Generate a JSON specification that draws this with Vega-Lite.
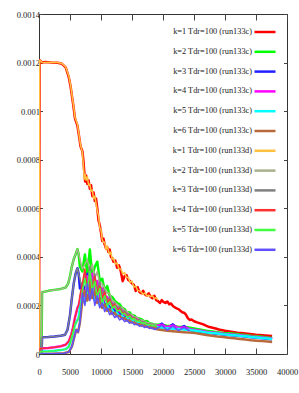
{
"$schema":"https://vega.github.io/schema/vega-lite/v6.json",
"autosize":{"type":"none"},
"padding":{"left":39,"top":14,"right":12,"bottom":39},
"width":248,"height":340,
"background":"white",
"config":{"view":{"stroke":"#333","strokeWidth":1},
"axis":{"labelFont":"Liberation Serif","labelFontSize":8.5,"labelColor":"#222","domain":false,"grid":false,"title":null,"tickColor":"#444","labelOverlap":false,"labelFlush":false},
"legend":{"orient":"top-right","offset":6,"title":null,"symbolType":"stroke","symbolSize":441,"symbolStrokeWidth":2.5,"labelFont":"Liberation Serif","labelFontSize":8.3,"labelColor":"#222","labelAlign":"right","labelOffset":-25,"rowPadding":2.8,"padding":0,"labelLimit":200}},
"data":{"values":[
{"s":"1c","x":0,"y":0},{"s":"1c","x":100,"y":0.00121},{"s":"1c","x":500,"y":0.0012},{"s":"1c","x":1000,"y":0.001202},{"s":"1c","x":2000,"y":0.0012},{"s":"1c","x":3000,"y":0.001199},{"s":"1c","x":3700,"y":0.001195},{"s":"1c","x":4300,"y":0.00118},{"s":"1c","x":4800,"y":0.00114},{"s":"1c","x":5100,"y":0.0011},{"s":"1c","x":5500,"y":0.00103},{"s":"1c","x":5800,"y":0.00097},{"s":"1c","x":6000,"y":0.000955},{"s":"1c","x":6200,"y":0.00094},{"s":"1c","x":6500,"y":0.00089},{"s":"1c","x":6700,"y":0.000855},{"s":"1c","x":7000,"y":0.000835},{"s":"1c","x":7150,"y":0.0008},{"s":"1c","x":7300,"y":0.00075},{"s":"1c","x":7450,"y":0.00071},{"s":"1c","x":7600,"y":0.000735},{"s":"1c","x":7800,"y":0.0007},{"s":"1c","x":8000,"y":0.000715},{"s":"1c","x":8200,"y":0.00068},{"s":"1c","x":8400,"y":0.000695},{"s":"1c","x":8600,"y":0.00065},{"s":"1c","x":8800,"y":0.000665},{"s":"1c","x":9000,"y":0.00063},{"s":"1c","x":9200,"y":0.00064},{"s":"1c","x":9400,"y":0.0006},{"s":"1c","x":9600,"y":0.00055},{"s":"1c","x":9800,"y":0.00053},{"s":"1c","x":10000,"y":0.0005},{"s":"1c","x":10200,"y":0.000465},{"s":"1c","x":10400,"y":0.000475},{"s":"1c","x":10600,"y":0.00045},{"s":"1c","x":10800,"y":0.000435},{"s":"1c","x":11000,"y":0.00044},{"s":"1c","x":11200,"y":0.00042},{"s":"1c","x":11400,"y":0.00043},{"s":"1c","x":11600,"y":0.0004},{"s":"1c","x":11800,"y":0.000395},{"s":"1c","x":12000,"y":0.00038},{"s":"1c","x":12300,"y":0.000385},{"s":"1c","x":12600,"y":0.000355},{"s":"1c","x":12900,"y":0.000365},{"s":"1c","x":13200,"y":0.00034},{"s":"1c","x":13500,"y":0.0003},{"s":"1c","x":13800,"y":0.00032},{"s":"1c","x":14100,"y":0.000325},{"s":"1c","x":14400,"y":0.000305},{"s":"1c","x":14700,"y":0.0003},{"s":"1c","x":15000,"y":0.00029},{"s":"1c","x":15300,"y":0.000285},{"s":"1c","x":15600,"y":0.00026},{"s":"1c","x":15900,"y":0.000275},{"s":"1c","x":16200,"y":0.000255},{"s":"1c","x":16500,"y":0.00025},{"s":"1c","x":16800,"y":0.00026},{"s":"1c","x":17100,"y":0.000245},{"s":"1c","x":17400,"y":0.00024},{"s":"1c","x":17700,"y":0.00025},{"s":"1c","x":18000,"y":0.000235},{"s":"1c","x":18300,"y":0.00023},{"s":"1c","x":18600,"y":0.00024},{"s":"1c","x":18900,"y":0.000222},{"s":"1c","x":19200,"y":0.000218},{"s":"1c","x":19500,"y":0.00021},{"s":"1c","x":19800,"y":0.000222},{"s":"1c","x":20100,"y":0.000214},{"s":"1c","x":20400,"y":0.00021},{"s":"1c","x":20700,"y":0.000216},{"s":"1c","x":21000,"y":0.000205},{"s":"1c","x":21300,"y":0.000208},{"s":"1c","x":21600,"y":0.000198},{"s":"1c","x":21900,"y":0.000192},{"s":"1c","x":22200,"y":0.000188},{"s":"1c","x":22500,"y":0.000185},{"s":"1c","x":22800,"y":0.000178},{"s":"1c","x":23100,"y":0.000172},{"s":"1c","x":23400,"y":0.00017},{"s":"1c","x":23700,"y":0.000162},{"s":"1c","x":24000,"y":0.000148},{"s":"1c","x":24300,"y":0.00014},{"s":"1c","x":24600,"y":0.000142},{"s":"1c","x":25000,"y":0.000135},{"s":"1c","x":25500,"y":0.00013},{"s":"1c","x":26000,"y":0.000126},{"s":"1c","x":26500,"y":0.000122},{"s":"1c","x":27000,"y":0.000116},{"s":"1c","x":27500,"y":0.000111},{"s":"1c","x":28000,"y":0.000108},{"s":"1c","x":28500,"y":0.000105},{"s":"1c","x":29000,"y":0.000101},{"s":"1c","x":30000,"y":0.000096},{"s":"1c","x":31000,"y":0.000092},{"s":"1c","x":32000,"y":0.000088},{"s":"1c","x":33000,"y":0.000085},{"s":"1c","x":34000,"y":0.000082},{"s":"1c","x":35000,"y":0.000079},{"s":"1c","x":36000,"y":0.000077},{"s":"1c","x":37000,"y":0.000075},{"s":"1c","x":37600,"y":0.000074},
{"s":"2c","x":0,"y":0},{"s":"2c","x":400,"y":0},{"s":"2c","x":500,"y":0.000254},{"s":"2c","x":1500,"y":0.00026},{"s":"2c","x":2500,"y":0.000264},{"s":"2c","x":3500,"y":0.000268},{"s":"2c","x":4300,"y":0.000274},{"s":"2c","x":4700,"y":0.00029},{"s":"2c","x":5000,"y":0.00032},{"s":"2c","x":5300,"y":0.00036},{"s":"2c","x":5600,"y":0.00039},{"s":"2c","x":5900,"y":0.00041},{"s":"2c","x":6200,"y":0.000432},{"s":"2c","x":6400,"y":0.00041},{"s":"2c","x":6600,"y":0.00036},{"s":"2c","x":7000,"y":0.00034},{"s":"2c","x":7400,"y":0.00041},{"s":"2c","x":7800,"y":0.00033},{"s":"2c","x":8200,"y":0.00043},{"s":"2c","x":8600,"y":0.00032},{"s":"2c","x":9000,"y":0.00036},{"s":"2c","x":9400,"y":0.00038},{"s":"2c","x":9800,"y":0.0003},{"s":"2c","x":10200,"y":0.00031},{"s":"2c","x":10600,"y":0.00026},{"s":"2c","x":11000,"y":0.00028},{"s":"2c","x":11400,"y":0.00024},{"s":"2c","x":11800,"y":0.000235},{"s":"2c","x":12200,"y":0.00022},{"s":"2c","x":12600,"y":0.00021},{"s":"2c","x":13000,"y":0.000205},{"s":"2c","x":13400,"y":0.00019},{"s":"2c","x":13800,"y":0.000185},{"s":"2c","x":14200,"y":0.00017},{"s":"2c","x":14600,"y":0.000172},{"s":"2c","x":15000,"y":0.00016},{"s":"2c","x":15400,"y":0.000158},{"s":"2c","x":15800,"y":0.000148},{"s":"2c","x":16200,"y":0.000146},{"s":"2c","x":16600,"y":0.000142},{"s":"2c","x":17000,"y":0.000134},{"s":"2c","x":17400,"y":0.000136},{"s":"2c","x":17800,"y":0.000127},{"s":"2c","x":18200,"y":0.000125},{"s":"2c","x":18600,"y":0.000121},{"s":"2c","x":19000,"y":0.00012},{"s":"2c","x":19800,"y":0.000121},{"s":"2c","x":20700,"y":0.000115},{"s":"2c","x":21600,"y":0.000116},{"s":"2c","x":22500,"y":0.000111},{"s":"2c","x":23400,"y":0.000112},{"s":"2c","x":24300,"y":0.000108},{"s":"2c","x":25200,"y":0.000104},{"s":"2c","x":26100,"y":0.0001},{"s":"2c","x":27000,"y":0.000096},{"s":"2c","x":27900,"y":0.000093},{"s":"2c","x":28800,"y":0.00009},{"s":"2c","x":29700,"y":0.000087},{"s":"2c","x":30600,"y":0.000085},{"s":"2c","x":31500,"y":0.000083},{"s":"2c","x":32400,"y":0.00008},{"s":"2c","x":33300,"y":0.000078},{"s":"2c","x":34200,"y":0.000075},{"s":"2c","x":35100,"y":0.000073},{"s":"2c","x":36000,"y":0.000071},{"s":"2c","x":36900,"y":0.000068},{"s":"2c","x":37600,"y":0.000066},
{"s":"3c","x":0,"y":0},{"s":"3c","x":400,"y":0},{"s":"3c","x":500,"y":0.000069},{"s":"3c","x":1500,"y":0.00007},{"s":"3c","x":2500,"y":0.000072},{"s":"3c","x":3500,"y":0.000075},{"s":"3c","x":4200,"y":0.000079},{"s":"3c","x":4600,"y":0.0001},{"s":"3c","x":5000,"y":0.00016},{"s":"3c","x":5300,"y":0.00023},{"s":"3c","x":5600,"y":0.00029},{"s":"3c","x":5900,"y":0.00033},{"s":"3c","x":6200,"y":0.000353},{"s":"3c","x":6400,"y":0.00033},{"s":"3c","x":6600,"y":0.00027},{"s":"3c","x":7000,"y":0.00029},{"s":"3c","x":7400,"y":0.00025},{"s":"3c","x":7800,"y":0.00033},{"s":"3c","x":8200,"y":0.00026},{"s":"3c","x":8600,"y":0.00029},{"s":"3c","x":9000,"y":0.00024},{"s":"3c","x":9400,"y":0.00027},{"s":"3c","x":9800,"y":0.00022},{"s":"3c","x":10200,"y":0.00024},{"s":"3c","x":10600,"y":0.0002},{"s":"3c","x":11000,"y":0.00021},{"s":"3c","x":11400,"y":0.00019},{"s":"3c","x":11800,"y":0.000195},{"s":"3c","x":12200,"y":0.000178},{"s":"3c","x":12600,"y":0.00018},{"s":"3c","x":13000,"y":0.000165},{"s":"3c","x":13400,"y":0.000168},{"s":"3c","x":13800,"y":0.000155},{"s":"3c","x":14200,"y":0.000152},{"s":"3c","x":14600,"y":0.000145},{"s":"3c","x":15000,"y":0.000142},{"s":"3c","x":15400,"y":0.000135},{"s":"3c","x":15800,"y":0.000134},{"s":"3c","x":16200,"y":0.000128},{"s":"3c","x":16600,"y":0.000126},{"s":"3c","x":17000,"y":0.000121},{"s":"3c","x":17400,"y":0.00012},{"s":"3c","x":17800,"y":0.000115},{"s":"3c","x":18200,"y":0.000114},{"s":"3c","x":18600,"y":0.00011},{"s":"3c","x":19000,"y":0.000109},{"s":"3c","x":19800,"y":0.000125},{"s":"3c","x":20700,"y":0.000106},{"s":"3c","x":21600,"y":0.000122},{"s":"3c","x":22500,"y":0.000103},{"s":"3c","x":23400,"y":0.000115},{"s":"3c","x":24300,"y":0.000099},{"s":"3c","x":25200,"y":0.000095},{"s":"3c","x":26100,"y":0.000092},{"s":"3c","x":27000,"y":0.000088},{"s":"3c","x":27900,"y":0.000085},{"s":"3c","x":28800,"y":0.000083},{"s":"3c","x":29700,"y":0.00008},{"s":"3c","x":30600,"y":0.000078},{"s":"3c","x":31500,"y":0.000076},{"s":"3c","x":32400,"y":0.000074},{"s":"3c","x":33300,"y":0.000072},{"s":"3c","x":34200,"y":0.000069},{"s":"3c","x":35100,"y":0.000067},{"s":"3c","x":36000,"y":0.000065},{"s":"3c","x":36900,"y":0.000063},{"s":"3c","x":37600,"y":0.000061},
{"s":"4c","x":0,"y":0},{"s":"4c","x":100,"y":0},{"s":"4c","x":200,"y":0.000023},{"s":"4c","x":1500,"y":0.000025},{"s":"4c","x":2500,"y":0.000028},{"s":"4c","x":3500,"y":0.000032},{"s":"4c","x":4300,"y":0.000038},{"s":"4c","x":4800,"y":0.000052},{"s":"4c","x":5200,"y":0.00008},{"s":"4c","x":5500,"y":0.00011},{"s":"4c","x":5800,"y":0.00015},{"s":"4c","x":6200,"y":0.00019},{"s":"4c","x":6400,"y":0.0002},{"s":"4c","x":6600,"y":0.00022},{"s":"4c","x":7000,"y":0.00027},{"s":"4c","x":7400,"y":0.00022},{"s":"4c","x":7800,"y":0.00032},{"s":"4c","x":8200,"y":0.00027},{"s":"4c","x":8600,"y":0.00033},{"s":"4c","x":9000,"y":0.00026},{"s":"4c","x":9400,"y":0.0003},{"s":"4c","x":9800,"y":0.00024},{"s":"4c","x":10200,"y":0.00027},{"s":"4c","x":10600,"y":0.00022},{"s":"4c","x":11000,"y":0.000235},{"s":"4c","x":11400,"y":0.00021},{"s":"4c","x":11800,"y":0.000212},{"s":"4c","x":12200,"y":0.00019},{"s":"4c","x":12600,"y":0.000195},{"s":"4c","x":13000,"y":0.000175},{"s":"4c","x":13400,"y":0.00018},{"s":"4c","x":13800,"y":0.000162},{"s":"4c","x":14200,"y":0.000168},{"s":"4c","x":14600,"y":0.000152},{"s":"4c","x":15000,"y":0.000155},{"s":"4c","x":15400,"y":0.000142},{"s":"4c","x":15800,"y":0.000145},{"s":"4c","x":16200,"y":0.000133},{"s":"4c","x":16600,"y":0.000136},{"s":"4c","x":17000,"y":0.000125},{"s":"4c","x":17400,"y":0.000128},{"s":"4c","x":17800,"y":0.000119},{"s":"4c","x":18200,"y":0.000121},{"s":"4c","x":18600,"y":0.000114},{"s":"4c","x":19000,"y":0.000116},{"s":"4c","x":19800,"y":0.00012},{"s":"4c","x":20700,"y":0.000111},{"s":"4c","x":21600,"y":0.000117},{"s":"4c","x":22500,"y":0.000107},{"s":"4c","x":23400,"y":0.00011},{"s":"4c","x":24300,"y":0.000102},{"s":"4c","x":25200,"y":0.000099},{"s":"4c","x":26100,"y":0.000096},{"s":"4c","x":27000,"y":0.000092},{"s":"4c","x":27900,"y":0.000089},{"s":"4c","x":28800,"y":0.000086},{"s":"4c","x":29700,"y":0.000083},{"s":"4c","x":30600,"y":0.000081},{"s":"4c","x":31500,"y":0.000079},{"s":"4c","x":32400,"y":0.000077},{"s":"4c","x":33300,"y":0.000075},{"s":"4c","x":34200,"y":0.000072},{"s":"4c","x":35100,"y":0.00007},{"s":"4c","x":36000,"y":0.000068},{"s":"4c","x":36900,"y":0.000066},{"s":"4c","x":37600,"y":0.000064},
{"s":"5c","x":0,"y":0},{"s":"5c","x":100,"y":0},{"s":"5c","x":200,"y":0.00001},{"s":"5c","x":1500,"y":0.000011},{"s":"5c","x":2500,"y":0.000013},{"s":"5c","x":3500,"y":0.000016},{"s":"5c","x":4300,"y":0.00002},{"s":"5c","x":4800,"y":0.00003},{"s":"5c","x":5200,"y":0.00006},{"s":"5c","x":5500,"y":0.00009},{"s":"5c","x":5800,"y":0.00012},{"s":"5c","x":6200,"y":0.00014},{"s":"5c","x":6400,"y":0.00015},{"s":"5c","x":6600,"y":0.00019},{"s":"5c","x":7000,"y":0.00024},{"s":"5c","x":7400,"y":0.00021},{"s":"5c","x":7800,"y":0.00028},{"s":"5c","x":8200,"y":0.00023},{"s":"5c","x":8600,"y":0.00027},{"s":"5c","x":9000,"y":0.00022},{"s":"5c","x":9400,"y":0.00025},{"s":"5c","x":9800,"y":0.0002},{"s":"5c","x":10200,"y":0.00022},{"s":"5c","x":10600,"y":0.00019},{"s":"5c","x":11000,"y":0.0002},{"s":"5c","x":11400,"y":0.000178},{"s":"5c","x":11800,"y":0.000182},{"s":"5c","x":12200,"y":0.000165},{"s":"5c","x":12600,"y":0.000168},{"s":"5c","x":13000,"y":0.000155},{"s":"5c","x":13400,"y":0.000158},{"s":"5c","x":13800,"y":0.000146},{"s":"5c","x":14200,"y":0.000148},{"s":"5c","x":14600,"y":0.000139},{"s":"5c","x":15000,"y":0.00014},{"s":"5c","x":15400,"y":0.000132},{"s":"5c","x":15800,"y":0.000133},{"s":"5c","x":16200,"y":0.000126},{"s":"5c","x":16600,"y":0.000127},{"s":"5c","x":17000,"y":0.000121},{"s":"5c","x":17400,"y":0.000121},{"s":"5c","x":17800,"y":0.000116},{"s":"5c","x":18200,"y":0.000116},{"s":"5c","x":18600,"y":0.000111},{"s":"5c","x":19000,"y":0.000111},{"s":"5c","x":19800,"y":0.000108},{"s":"5c","x":20700,"y":0.000106},{"s":"5c","x":21600,"y":0.000104},{"s":"5c","x":22500,"y":0.000103},{"s":"5c","x":23400,"y":0.000101},{"s":"5c","x":24300,"y":0.000099},{"s":"5c","x":25200,"y":0.000096},{"s":"5c","x":26100,"y":0.000093},{"s":"5c","x":27000,"y":0.000089},{"s":"5c","x":27900,"y":0.000086},{"s":"5c","x":28800,"y":0.000084},{"s":"5c","x":29700,"y":0.000081},{"s":"5c","x":30600,"y":0.000079},{"s":"5c","x":31500,"y":0.000077},{"s":"5c","x":32400,"y":0.000075},{"s":"5c","x":33300,"y":0.000073},{"s":"5c","x":34200,"y":0.00007},{"s":"5c","x":35100,"y":0.000068},{"s":"5c","x":36000,"y":0.000066},{"s":"5c","x":36900,"y":0.000064},{"s":"5c","x":37600,"y":0.000062},
{"s":"6c","x":0,"y":0},{"s":"6c","x":2000,"y":0.000001},{"s":"6c","x":4000,"y":0.000003},{"s":"6c","x":4800,"y":0.000008},{"s":"6c","x":5300,"y":0.00003},{"s":"6c","x":5700,"y":0.00007},{"s":"6c","x":6000,"y":0.0001},{"s":"6c","x":6300,"y":0.00009},{"s":"6c","x":6600,"y":0.00013},{"s":"6c","x":7000,"y":0.00022},{"s":"6c","x":7400,"y":0.00026},{"s":"6c","x":7800,"y":0.00022},{"s":"6c","x":8200,"y":0.00028},{"s":"6c","x":8600,"y":0.00023},{"s":"6c","x":9000,"y":0.00026},{"s":"6c","x":9400,"y":0.00021},{"s":"6c","x":9800,"y":0.00023},{"s":"6c","x":10200,"y":0.00019},{"s":"6c","x":10600,"y":0.000205},{"s":"6c","x":11000,"y":0.000178},{"s":"6c","x":11400,"y":0.000185},{"s":"6c","x":11800,"y":0.000165},{"s":"6c","x":12200,"y":0.00017},{"s":"6c","x":12600,"y":0.000155},{"s":"6c","x":13000,"y":0.000158},{"s":"6c","x":13400,"y":0.000146},{"s":"6c","x":13800,"y":0.000147},{"s":"6c","x":14200,"y":0.000138},{"s":"6c","x":14600,"y":0.000138},{"s":"6c","x":15000,"y":0.00013},{"s":"6c","x":15400,"y":0.00013},{"s":"6c","x":15800,"y":0.000123},{"s":"6c","x":16200,"y":0.000123},{"s":"6c","x":16600,"y":0.000117},{"s":"6c","x":17000,"y":0.000117},{"s":"6c","x":17400,"y":0.000112},{"s":"6c","x":17800,"y":0.000111},{"s":"6c","x":18200,"y":0.000107},{"s":"6c","x":18600,"y":0.000106},{"s":"6c","x":19000,"y":0.000102},{"s":"6c","x":19800,"y":0.000099},{"s":"6c","x":20700,"y":0.000096},{"s":"6c","x":21600,"y":0.000094},{"s":"6c","x":22500,"y":0.000092},{"s":"6c","x":23400,"y":0.00009},{"s":"6c","x":24300,"y":0.000088},{"s":"6c","x":25200,"y":0.000086},{"s":"6c","x":26100,"y":0.000082},{"s":"6c","x":27000,"y":0.000078},{"s":"6c","x":27900,"y":0.000075},{"s":"6c","x":28800,"y":0.000072},{"s":"6c","x":29700,"y":0.00007},{"s":"6c","x":30600,"y":0.000067},{"s":"6c","x":31500,"y":0.000065},{"s":"6c","x":32400,"y":0.000062},{"s":"6c","x":33300,"y":0.00006},{"s":"6c","x":34200,"y":0.000057},{"s":"6c","x":35100,"y":0.000055},{"s":"6c","x":36000,"y":0.000053},{"s":"6c","x":36900,"y":0.000051},{"s":"6c","x":37600,"y":0.000049},
{"s":"1d","x":0,"y":0},{"s":"1d","x":100,"y":0.00121},{"s":"1d","x":500,"y":0.0012},{"s":"1d","x":1000,"y":0.0012},{"s":"1d","x":2000,"y":0.001201},{"s":"1d","x":3000,"y":0.0012},{"s":"1d","x":3700,"y":0.001196},{"s":"1d","x":4300,"y":0.001182},{"s":"1d","x":4800,"y":0.001145},{"s":"1d","x":5100,"y":0.001105},{"s":"1d","x":5500,"y":0.001035},{"s":"1d","x":5800,"y":0.000975},{"s":"1d","x":6000,"y":0.00096},{"s":"1d","x":6200,"y":0.000945},{"s":"1d","x":6500,"y":0.000895},{"s":"1d","x":6700,"y":0.00086},{"s":"1d","x":7000,"y":0.00083},{"s":"1d","x":7150,"y":0.00078},{"s":"1d","x":7300,"y":0.00072},{"s":"1d","x":7450,"y":0.00074},{"s":"1d","x":7600,"y":0.000715},{"s":"1d","x":7800,"y":0.00073},{"s":"1d","x":8000,"y":0.000695},{"s":"1d","x":8200,"y":0.0007},{"s":"1d","x":8400,"y":0.00067},{"s":"1d","x":8600,"y":0.000675},{"s":"1d","x":8800,"y":0.00064},{"s":"1d","x":9000,"y":0.00065},{"s":"1d","x":9200,"y":0.00062},{"s":"1d","x":9400,"y":0.00059},{"s":"1d","x":9600,"y":0.00057},{"s":"1d","x":9800,"y":0.00052},{"s":"1d","x":10000,"y":0.00051},{"s":"1d","x":10200,"y":0.00047},{"s":"1d","x":10400,"y":0.00046},{"s":"1d","x":10600,"y":0.00046},{"s":"1d","x":10800,"y":0.00043},{"s":"1d","x":11000,"y":0.000445},{"s":"1d","x":11200,"y":0.000425},{"s":"1d","x":11400,"y":0.00041},{"s":"1d","x":11600,"y":0.00042},{"s":"1d","x":11800,"y":0.00039},{"s":"1d","x":12000,"y":0.000395},{"s":"1d","x":12300,"y":0.00037},{"s":"1d","x":12600,"y":0.000375},{"s":"1d","x":12900,"y":0.00035},{"s":"1d","x":13200,"y":0.00035},{"s":"1d","x":13500,"y":0.00033},{"s":"1d","x":13800,"y":0.000335},{"s":"1d","x":14100,"y":0.000315},{"s":"1d","x":14400,"y":0.000315},{"s":"1d","x":14700,"y":0.000295},{"s":"1d","x":15000,"y":0.0003},{"s":"1d","x":15300,"y":0.000275},{"s":"1d","x":15600,"y":0.00028},{"s":"1d","x":15900,"y":0.000262},{"s":"1d","x":16200,"y":0.00026},{"s":"1d","x":16500,"y":0.000255},{"s":"1d","x":16800,"y":0.000245},{"s":"1d","x":17100,"y":0.000252},{"s":"1d","x":17400,"y":0.000238},{"s":"1d","x":17700,"y":0.000242},{"s":"1d","x":18000,"y":0.000236},{"s":"1d","x":18300,"y":0.00024},{"s":"1d","x":18600,"y":0.000228},{"s":"1d","x":18900,"y":0.000232},{"s":"1d","x":19200,"y":0.000222},
{"s":"2d","x":0,"y":0},{"s":"2d","x":400,"y":0},{"s":"2d","x":500,"y":0.000254},{"s":"2d","x":1500,"y":0.00026},{"s":"2d","x":2500,"y":0.000264},{"s":"2d","x":3500,"y":0.000268},{"s":"2d","x":4300,"y":0.000274},{"s":"2d","x":4700,"y":0.00029},{"s":"2d","x":5000,"y":0.00032},{"s":"2d","x":5300,"y":0.00036},{"s":"2d","x":5600,"y":0.00039},{"s":"2d","x":5900,"y":0.00041},{"s":"2d","x":6200,"y":0.000432},{"s":"2d","x":6400,"y":0.00041},{"s":"2d","x":6600,"y":0.00039},{"s":"2d","x":7000,"y":0.00035},{"s":"2d","x":7400,"y":0.00037},{"s":"2d","x":7800,"y":0.00039},{"s":"2d","x":8200,"y":0.00034},{"s":"2d","x":8600,"y":0.00037},{"s":"2d","x":9000,"y":0.00031},{"s":"2d","x":9400,"y":0.00034},{"s":"2d","x":9800,"y":0.00029},{"s":"2d","x":10200,"y":0.00029},{"s":"2d","x":10600,"y":0.00027},{"s":"2d","x":11000,"y":0.00025},{"s":"2d","x":11400,"y":0.00025},{"s":"2d","x":11800,"y":0.00022},{"s":"2d","x":12200,"y":0.000215},{"s":"2d","x":12600,"y":0.000205},{"s":"2d","x":13000,"y":0.000195},{"s":"2d","x":13400,"y":0.000192},{"s":"2d","x":13800,"y":0.00018},{"s":"2d","x":14200,"y":0.000175},{"s":"2d","x":14600,"y":0.000165},{"s":"2d","x":15000,"y":0.000162},{"s":"2d","x":15400,"y":0.000152},{"s":"2d","x":15800,"y":0.000152},{"s":"2d","x":16200,"y":0.000142},{"s":"2d","x":16600,"y":0.00014},{"s":"2d","x":17000,"y":0.000135},{"s":"2d","x":17400,"y":0.00013},{"s":"2d","x":17800,"y":0.000129},{"s":"2d","x":18200,"y":0.000123},{"s":"2d","x":18600,"y":0.000124},{"s":"2d","x":19000,"y":0.000118},
{"s":"3d","x":0,"y":0},{"s":"3d","x":400,"y":0},{"s":"3d","x":500,"y":0.000069},{"s":"3d","x":1500,"y":0.00007},{"s":"3d","x":2500,"y":0.000072},{"s":"3d","x":3500,"y":0.000075},{"s":"3d","x":4200,"y":0.000079},{"s":"3d","x":4600,"y":0.0001},{"s":"3d","x":5000,"y":0.00016},{"s":"3d","x":5300,"y":0.00023},{"s":"3d","x":5600,"y":0.00029},{"s":"3d","x":5900,"y":0.00033},{"s":"3d","x":6200,"y":0.000353},{"s":"3d","x":6400,"y":0.00033},{"s":"3d","x":6600,"y":0.00031},{"s":"3d","x":7000,"y":0.00026},{"s":"3d","x":7400,"y":0.00034},{"s":"3d","x":7800,"y":0.00027},{"s":"3d","x":8200,"y":0.00036},{"s":"3d","x":8600,"y":0.00028},{"s":"3d","x":9000,"y":0.00033},{"s":"3d","x":9400,"y":0.00026},{"s":"3d","x":9800,"y":0.0003},{"s":"3d","x":10200,"y":0.00025},{"s":"3d","x":10600,"y":0.00026},{"s":"3d","x":11000,"y":0.00022},{"s":"3d","x":11400,"y":0.000235},{"s":"3d","x":11800,"y":0.000205},{"s":"3d","x":12200,"y":0.00021},{"s":"3d","x":12600,"y":0.00019},{"s":"3d","x":13000,"y":0.000195},{"s":"3d","x":13400,"y":0.000175},{"s":"3d","x":13800,"y":0.000178},{"s":"3d","x":14200,"y":0.000162},{"s":"3d","x":14600,"y":0.000165},{"s":"3d","x":15000,"y":0.000148},{"s":"3d","x":15400,"y":0.00015},{"s":"3d","x":15800,"y":0.000138},{"s":"3d","x":16200,"y":0.000142},{"s":"3d","x":16600,"y":0.00013},{"s":"3d","x":17000,"y":0.000133},{"s":"3d","x":17400,"y":0.000122},{"s":"3d","x":17800,"y":0.000126},{"s":"3d","x":18200,"y":0.000116},{"s":"3d","x":18600,"y":0.00012},{"s":"3d","x":19000,"y":0.000112},
{"s":"4d","x":0,"y":0},{"s":"4d","x":100,"y":0},{"s":"4d","x":200,"y":0.000023},{"s":"4d","x":1500,"y":0.000025},{"s":"4d","x":2500,"y":0.000028},{"s":"4d","x":3500,"y":0.000032},{"s":"4d","x":4300,"y":0.000038},{"s":"4d","x":4800,"y":0.000052},{"s":"4d","x":5200,"y":0.00008},{"s":"4d","x":5500,"y":0.00011},{"s":"4d","x":5800,"y":0.00015},{"s":"4d","x":6200,"y":0.00019},{"s":"4d","x":6400,"y":0.0002},{"s":"4d","x":6600,"y":0.00024},{"s":"4d","x":7000,"y":0.00029},{"s":"4d","x":7400,"y":0.00035},{"s":"4d","x":7800,"y":0.00026},{"s":"4d","x":8200,"y":0.00031},{"s":"4d","x":8600,"y":0.00027},{"s":"4d","x":9000,"y":0.00032},{"s":"4d","x":9400,"y":0.00025},{"s":"4d","x":9800,"y":0.00028},{"s":"4d","x":10200,"y":0.00023},{"s":"4d","x":10600,"y":0.000255},{"s":"4d","x":11000,"y":0.00021},{"s":"4d","x":11400,"y":0.000225},{"s":"4d","x":11800,"y":0.000195},{"s":"4d","x":12200,"y":0.000205},{"s":"4d","x":12600,"y":0.00018},{"s":"4d","x":13000,"y":0.000188},{"s":"4d","x":13400,"y":0.000168},{"s":"4d","x":13800,"y":0.000172},{"s":"4d","x":14200,"y":0.000155},{"s":"4d","x":14600,"y":0.00016},{"s":"4d","x":15000,"y":0.000144},{"s":"4d","x":15400,"y":0.000148},{"s":"4d","x":15800,"y":0.000136},{"s":"4d","x":16200,"y":0.000138},{"s":"4d","x":16600,"y":0.000128},{"s":"4d","x":17000,"y":0.00013},{"s":"4d","x":17400,"y":0.000121},{"s":"4d","x":17800,"y":0.000123},{"s":"4d","x":18200,"y":0.000115},{"s":"4d","x":18600,"y":0.000117},{"s":"4d","x":19000,"y":0.00011},
{"s":"5d","x":0,"y":0},{"s":"5d","x":100,"y":0},{"s":"5d","x":200,"y":0.00001},{"s":"5d","x":1500,"y":0.000011},{"s":"5d","x":2500,"y":0.000013},{"s":"5d","x":3500,"y":0.000016},{"s":"5d","x":4300,"y":0.00002},{"s":"5d","x":4800,"y":0.00003},{"s":"5d","x":5200,"y":0.00006},{"s":"5d","x":5500,"y":0.00009},{"s":"5d","x":5800,"y":0.00012},{"s":"5d","x":6200,"y":0.00014},{"s":"5d","x":6400,"y":0.00015},{"s":"5d","x":6600,"y":0.00017},{"s":"5d","x":7000,"y":0.00026},{"s":"5d","x":7400,"y":0.00031},{"s":"5d","x":7800,"y":0.00025},{"s":"5d","x":8200,"y":0.00034},{"s":"5d","x":8600,"y":0.00026},{"s":"5d","x":9000,"y":0.0003},{"s":"5d","x":9400,"y":0.00023},{"s":"5d","x":9800,"y":0.00027},{"s":"5d","x":10200,"y":0.00021},{"s":"5d","x":10600,"y":0.00024},{"s":"5d","x":11000,"y":0.0002},{"s":"5d","x":11400,"y":0.000215},{"s":"5d","x":11800,"y":0.000188},{"s":"5d","x":12200,"y":0.000198},{"s":"5d","x":12600,"y":0.000175},{"s":"5d","x":13000,"y":0.000182},{"s":"5d","x":13400,"y":0.000165},{"s":"5d","x":13800,"y":0.000168},{"s":"5d","x":14200,"y":0.000152},{"s":"5d","x":14600,"y":0.000156},{"s":"5d","x":15000,"y":0.000142},{"s":"5d","x":15400,"y":0.000146},{"s":"5d","x":15800,"y":0.000134},{"s":"5d","x":16200,"y":0.000137},{"s":"5d","x":16600,"y":0.000127},{"s":"5d","x":17000,"y":0.00013},{"s":"5d","x":17400,"y":0.000121},{"s":"5d","x":17800,"y":0.000123},{"s":"5d","x":18200,"y":0.000116},{"s":"5d","x":18600,"y":0.000118},{"s":"5d","x":19000,"y":0.000112},
{"s":"6d","x":0,"y":0},{"s":"6d","x":2000,"y":0.000001},{"s":"6d","x":4000,"y":0.000003},{"s":"6d","x":4800,"y":0.000008},{"s":"6d","x":5300,"y":0.00003},{"s":"6d","x":5700,"y":0.00007},{"s":"6d","x":6000,"y":0.0001},{"s":"6d","x":6300,"y":0.00009},{"s":"6d","x":6600,"y":0.00013},{"s":"6d","x":7000,"y":0.00025},{"s":"6d","x":7400,"y":0.0002},{"s":"6d","x":7800,"y":0.00029},{"s":"6d","x":8200,"y":0.00022},{"s":"6d","x":8600,"y":0.00027},{"s":"6d","x":9000,"y":0.0002},{"s":"6d","x":9400,"y":0.00024},{"s":"6d","x":9800,"y":0.00019},{"s":"6d","x":10200,"y":0.00021},{"s":"6d","x":10600,"y":0.000175},{"s":"6d","x":11000,"y":0.00019},{"s":"6d","x":11400,"y":0.000162},{"s":"6d","x":11800,"y":0.000172},{"s":"6d","x":12200,"y":0.00015},{"s":"6d","x":12600,"y":0.000158},{"s":"6d","x":13000,"y":0.00014},{"s":"6d","x":13400,"y":0.000148},{"s":"6d","x":13800,"y":0.000133},{"s":"6d","x":14200,"y":0.000139},{"s":"6d","x":14600,"y":0.000127},{"s":"6d","x":15000,"y":0.000131},{"s":"6d","x":15400,"y":0.00012},{"s":"6d","x":15800,"y":0.000124},{"s":"6d","x":16200,"y":0.000114},{"s":"6d","x":16600,"y":0.000118},{"s":"6d","x":17000,"y":0.000109},{"s":"6d","x":17400,"y":0.000113},{"s":"6d","x":17800,"y":0.000105},{"s":"6d","x":18200,"y":0.000108},{"s":"6d","x":18600,"y":0.000101},{"s":"6d","x":19000,"y":0.000104},{"s":"6d","x":19800,"y":0.000118},{"s":"6d","x":20700,"y":0.000098},{"s":"6d","x":21600,"y":0.000115},{"s":"6d","x":22500,"y":0.000096},{"s":"6d","x":23400,"y":0.00011},{"s":"6d","x":24300,"y":0.000094}
]},
"layer":[
{"transform":[{"filter":"test(/c$/, datum.s)"}],
"mark":{"type":"line","strokeWidth":2.5,"strokeJoin":"round","clip":true},
"encoding":{
"x":{"field":"x","type":"quantitative","scale":{"domain":[0,40000],"nice":false},"axis":{"orient":"bottom","values":[0,5000,10000,15000,20000,25000,30000,35000,40000],"format":"d","tickSize":-6,"labelPadding":19}},
"y":{"field":"y","type":"quantitative","scale":{"domain":[0,0.0014],"nice":false},"axis":{"orient":"left","values":[0,0.0002,0.0004,0.0006,0.0008,0.001,0.0012,0.0014],"format":"~g","tickSize":-3.5,"labelPadding":3}},
"color":{"field":"s","type":"nominal","scale":{"domain":["1c","2c","3c","4c","5c","6c","1d","2d","3d","4d","5d","6d"],"range":["#ff0000","#00ff00","#2020ff","#ff00ff","#00ffff","#b8693a","#ffc040","#a8b08c","#808080","#ff3030","#40ff40","#6050ff"]},
"legend":{"title":null,"labelExpr":"'k=' + slice(datum.label,0,1) + ' Tdr=100 (run133' + slice(datum.label,1) + ')'"}},
"detail":{"field":"s"}}},
{"transform":[{"filter":"test(/d$/, datum.s)"}],
"mark":{"type":"line","strokeWidth":1.5,"strokeJoin":"round","clip":true},
"encoding":{
"x":{"field":"x","type":"quantitative","axis":{"orient":"top","values":[0,5000,10000,15000,20000,25000,30000,35000,40000],"labels":false,"tickSize":-6}},
"y":{"field":"y","type":"quantitative","axis":{"orient":"right","values":[0,0.0002,0.0004,0.0006,0.0008,0.001,0.0012,0.0014],"labels":false,"tickSize":-3.5}},
"color":{"field":"s","type":"nominal","legend":{"title":null,"labelExpr":"'k=' + slice(datum.label,0,1) + ' Tdr=100 (run133' + slice(datum.label,1) + ')'"}},
"detail":{"field":"s"}}}
],
"resolve":{"axis":{"x":"independent","y":"independent"}}
}
